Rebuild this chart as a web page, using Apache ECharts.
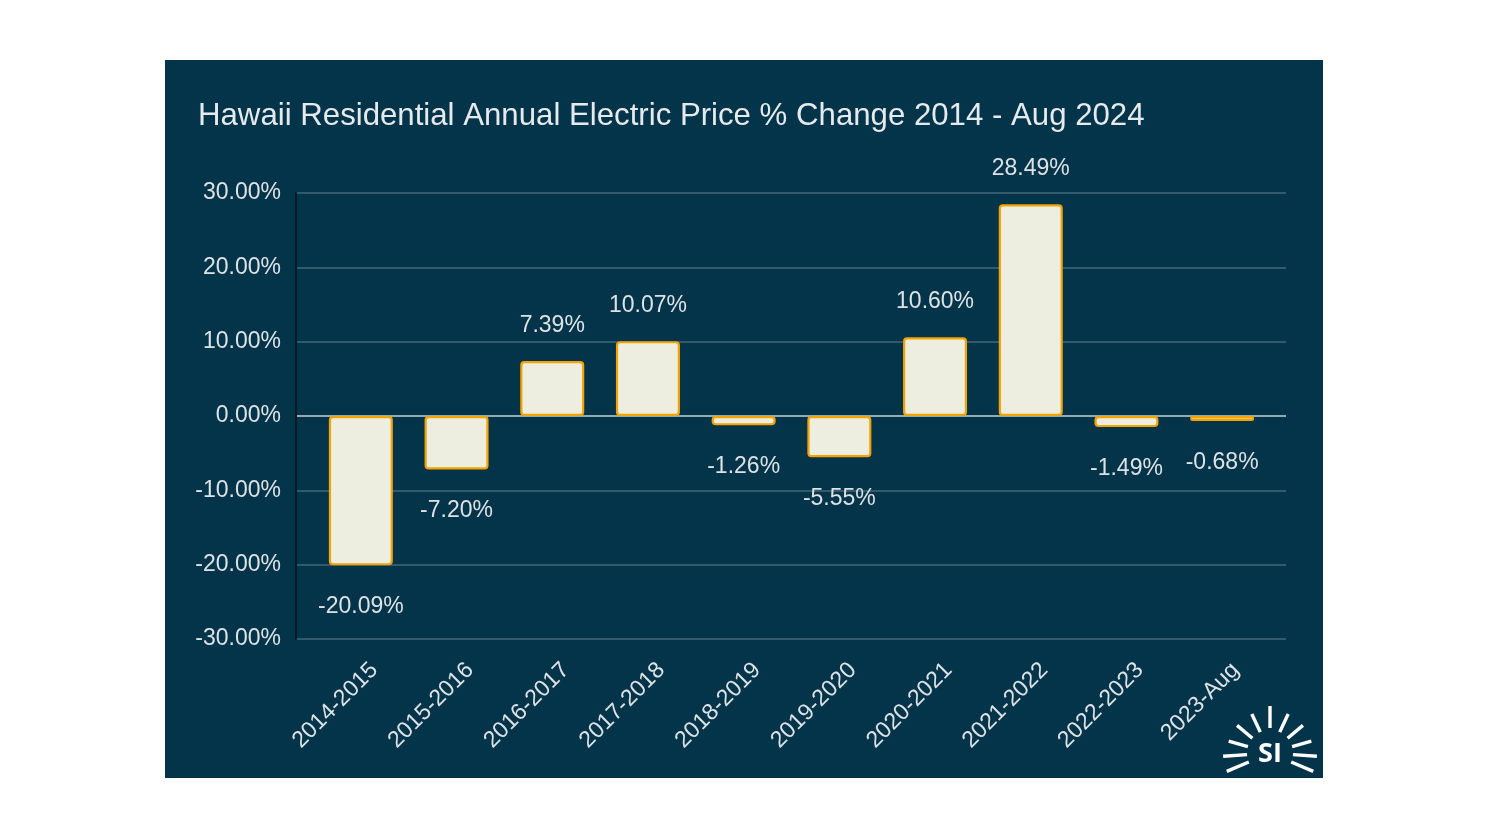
<!DOCTYPE html>
<html>
<head>
<meta charset="utf-8">
<script src="https://cdn.jsdelivr.net/npm/echarts@6/dist/echarts.min.js"></script>
<style>html,body{margin:0;padding:0;background:#fff;}#c{width:1488px;height:837px;}</style>
</head>
<body>
<div id="c"></div>
<script>
const titleText = 'Hawaii Residential Annual Electric Price % Change 2014 - Aug 2024';
const categories = ['2014-2015','2015-2016','2016-2017','2017-2018','2018-2019','2019-2020','2020-2021','2021-2022','2022-2023','2023-Aug'];
const changePct = [-20.09, -7.20, 7.39, 10.07, -1.26, -5.55, 10.60, 28.49, -1.49, -0.68];
const yMin = -30, yMax = 30, yStep = 10;

const FONT = '"Liberation Sans", Arial, sans-serif';
const TXT = '#dde2e5';
const GRIDC = '#456676';
const ZEROC = '#c8d2d7';

const chart = echarts.init(document.getElementById('c'));

// logo rays
const cx = 1270, cy = 753;
const rayAngles = [0, 25, -25, 50, -50, 74, -74, 94, -94, 113, -113];
const rays = rayAngles.map(a => {
  const r0 = (a === 0) ? 25 : 23, r1 = (a === 0) ? 47 : (Math.abs(a) >= 90 ? 47 : 43);
  const t = a * Math.PI / 180;
  return {
    type: 'line',
    shape: { x1: cx + r0 * Math.sin(t), y1: cy - r0 * Math.cos(t), x2: cx + r1 * Math.sin(t), y2: cy - r1 * Math.cos(t) },
    style: { stroke: '#ffffff', lineWidth: 3.4 },
    z: 10
  };
});

const splitColors = [];
for (let v = yMin; v <= yMax; v += yStep) splitColors.push(v === 0 ? ZEROC : GRIDC);

chart.setOption({
  backgroundColor: '#ffffff',
  animation: false,
  graphic: [
    { type: 'rect', shape: { x: 165, y: 60, width: 1158, height: 718 }, style: { fill: '#03344a' }, z: -10 },
    ...rays,
    { type: 'text', x: cx, y: cy + 1, style: { text: 'SI', fill: '#ffffff', font: 'bold 27px "Open Sans", Roboto, sans-serif', align: 'center', verticalAlign: 'middle' }, z: 10 }
  ],
  title: {
    text: titleText, left: 193, top: 96,
    textStyle: { color: '#e6eaec', fontSize: 31.2, fontWeight: 'normal', fontFamily: FONT }
  },
  grid: [
    { left: 296, right: 202, top: 193, bottom: 198 },
    { left: 313, right: 218, top: 193, bottom: 198 }
  ],
  xAxis: [
    { type: 'value', gridIndex: 0, show: false, min: 0, max: 1 },
    {
      type: 'category', gridIndex: 1, data: categories,
      axisLine: { show: false }, axisTick: { show: false },
      axisLabel: { rotate: 45, interval: 0, margin: 41, padding: [0, -19, 0, 0], color: TXT, fontSize: 23, fontFamily: FONT }
    }
  ],
  yAxis: [
    {
      type: 'value', gridIndex: 0, min: yMin, max: yMax, interval: yStep,
      axisLine: { show: true, lineStyle: { color: '#0b1a22', width: 2 } },
      axisTick: { show: false },
      splitLine: { show: true, lineStyle: { color: splitColors, width: 1.5 } },
      axisLabel: { margin: 15, color: TXT, fontSize: 23, fontFamily: FONT, padding: [6, 0, 0, 0], formatter: v => v.toFixed(2) + '%' }
    },
    { type: 'value', gridIndex: 1, min: yMin, max: yMax, interval: yStep, show: false, splitLine: { show: false } }
  ],
  series: [{
    type: 'bar', xAxisIndex: 1, yAxisIndex: 1, barWidth: 64,
    data: changePct.map(v => ({ value: v, label: { position: v >= 0 ? 'top' : 'bottom', distance: v >= 0 ? 24 : 30 } })),
    itemStyle: { color: '#eeeee0', borderColor: '#f4a300', borderWidth: 2.2, borderRadius: 3 },
    label: { show: true, color: TXT, fontSize: 23, fontFamily: FONT, formatter: p => p.value.toFixed(2) + '%' }
  }]
});
</script>
</body>
</html>
